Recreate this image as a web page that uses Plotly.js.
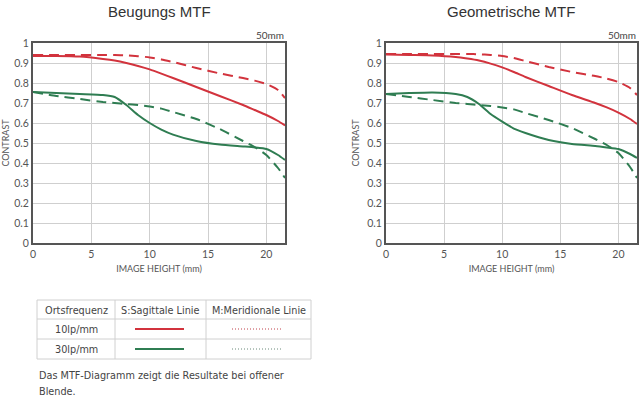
<!DOCTYPE html>
<html>
<head>
<meta charset="utf-8">
<script src="https://cdn.plot.ly/plotly-3.0.1.min.js"></script>
<style>
html,body{margin:0;padding:0;background:#fff;}
#chart{width:640px;height:396px;}
</style>
</head>
<body>
<div id="chart"></div>
<script>
// ---- data ----
const imageHeight = [0, 2, 4, 6, 7, 8, 9, 10, 11, 12, 14, 16, 18, 19, 20, 21, 21.6];

// Beugungs MTF (left)
const beug10S = [0.935,0.935,0.932,0.92,0.912,0.90,0.885,0.868,0.847,0.825,0.78,0.735,0.69,0.665,0.64,0.61,0.588];
const beug10M = [0.94,0.94,0.94,0.94,0.94,0.938,0.934,0.928,0.918,0.905,0.875,0.848,0.825,0.812,0.795,0.765,0.725];
const beug30S = [0.755,0.75,0.745,0.74,0.73,0.69,0.64,0.6,0.567,0.542,0.51,0.492,0.483,0.478,0.47,0.44,0.415];
const beug30M = [0.755,0.735,0.72,0.705,0.70,0.695,0.69,0.683,0.672,0.655,0.62,0.57,0.51,0.48,0.44,0.375,0.325];

// Geometrische MTF (right)
const geo10S = [0.942,0.94,0.938,0.93,0.922,0.912,0.897,0.878,0.855,0.83,0.785,0.74,0.70,0.678,0.652,0.62,0.595];
const geo10M = [0.945,0.945,0.945,0.945,0.945,0.944,0.94,0.935,0.925,0.91,0.88,0.855,0.835,0.822,0.805,0.775,0.74];
const geo30S = [0.745,0.75,0.753,0.745,0.73,0.695,0.645,0.607,0.572,0.55,0.515,0.495,0.485,0.478,0.47,0.445,0.425];
const geo30M = [0.745,0.73,0.715,0.70,0.695,0.69,0.685,0.678,0.668,0.65,0.615,0.575,0.52,0.49,0.45,0.38,0.325];

const chartTitles = ["Beugungs MTF", "Geometrische MTF"];
const focalLabel = "50mm";
const xTickVals = [0, 5, 10, 15, 20];
const yTickVals = [0,0.1,0.2,0.3,0.4,0.5,0.6,0.7,0.8,0.9,1];
const yTickText = ["0","0.1","0.2","0.3","0.4","0.5","0.6","0.7","0.8","0.9","1"];
const xTitle = "IMAGE HEIGHT (mm)";
const yTitle = "CONTRAST";

const tableHeader = ["Ortsfrequenz", "S:Sagittale Linie", "M:Meridionale Linie"];
const tableRows = ["10lp/mm", "30lp/mm"];
const footnote = ["Das MTF-Diagramm zeigt die Resultate bei offener", "Blende."];

// ---- styles ----
const RED = "#d2333d";
const GREEN = "#2f7d52";
const W = 640, H = 396;
const px = x => x / W;
const py = y => 1 - y / H;

function line(x, y, color, dashed, xa, ya) {
  return {
    x: x, y: y, xaxis: xa, yaxis: ya, type: "scatter", mode: "lines",
    line: {color: color, width: 2, dash: dashed ? "10px,6px" : "solid", shape: "spline", smoothing: 0.5},
    hoverinfo: "skip", showlegend: false
  };
}

const traces = [
  line(imageHeight, beug10M, RED, true, "x", "y"),
  line(imageHeight, beug10S, RED, false, "x", "y"),
  line(imageHeight, beug30M, GREEN, true, "x", "y"),
  line(imageHeight, beug30S, GREEN, false, "x", "y"),
  line(imageHeight, geo10M, RED, true, "x2", "y2"),
  line(imageHeight, geo10S, RED, false, "x2", "y2"),
  line(imageHeight, geo30M, GREEN, true, "x2", "y2"),
  line(imageHeight, geo30S, GREEN, false, "x2", "y2")
];

const tickFont = {family: "Lato, 'Open Sans', sans-serif", size: 10.5, color: "#555"};
const titleFont = {family: "Lato, 'Open Sans', sans-serif", size: 9, color: "#555"};

function xAxis(domain, anchor) {
  return {
    domain: domain, anchor: anchor, range: [0, 21.6],
    tickvals: xTickVals, ticks: "", showgrid: true, gridcolor: "#cfcfcf", gridwidth: 1,
    zeroline: false, showline: true, linecolor: "#555", linewidth: 2, mirror: true,
    tickfont: tickFont, fixedrange: true,
    title: {text: xTitle, font: titleFont, standoff: 7}
  };
}
function yAxis(anchor) {
  return {
    domain: [py(243), py(43)], anchor: anchor, range: [0, 1],
    tickvals: yTickVals, ticktext: yTickText, ticks: "", showgrid: true, gridcolor: "#cfcfcf", gridwidth: 1,
    zeroline: false, showline: true, linecolor: "#555", linewidth: 2, mirror: true,
    tickfont: tickFont, fixedrange: true,
    title: {text: yTitle, font: titleFont, standoff: 6}
  };
}

const annotations = [];
const shapes = [];
const txtFont = {family: "DejaVu Sans, Verdana, sans-serif", size: 9.7, color: "#444"};

// chart titles
const plotCenters = [159, 511];
chartTitles.forEach((t, i) => {
  annotations.push({text: t, xref: "paper", yref: "paper", x: px(plotCenters[i]), y: py(11),
    xanchor: "center", yanchor: "middle", showarrow: false,
    font: {family: "'Liberation Sans', Arial, sans-serif", size: 15, color: "#333"}});
});
// 50mm labels
[286, 638].forEach(xr => {
  annotations.push({text: focalLabel, xref: "paper", yref: "paper", x: px(xr), y: py(35),
    xanchor: "right", yanchor: "middle", showarrow: false, font: {family: "Lato, sans-serif", size: 10, color: "#444"}});
});

// legend table
const tL = 37, tR = 311, colX = [37, 115, 206, 311], rowY = [300, 319, 339, 359];
const border = {color: "#d0d0d0", width: 1};
rowY.forEach(y => shapes.push({type: "line", xref: "paper", yref: "paper", x0: px(tL), x1: px(tR), y0: py(y), y1: py(y), line: border}));
colX.forEach(x => shapes.push({type: "line", xref: "paper", yref: "paper", x0: px(x), x1: px(x), y0: py(rowY[0]), y1: py(rowY[3]), line: border}));
tableHeader.forEach((h, i) => {
  annotations.push({text: h, xref: "paper", yref: "paper", x: px((colX[i] + colX[i+1]) / 2), y: py(310),
    xanchor: "center", yanchor: "middle", showarrow: false, font: txtFont});
});
const rowColors = [RED, GREEN];
const dotColors = ["#c0404a", "#6a8a7a"];
tableRows.forEach((r, i) => {
  const yc = (rowY[i+1] + rowY[i+2]) / 2;
  annotations.push({text: r, xref: "paper", yref: "paper", x: px(76), y: py(yc),
    xanchor: "center", yanchor: "middle", showarrow: false, font: txtFont});
  shapes.push({type: "line", xref: "paper", yref: "paper", x0: px(135), x1: px(184), y0: py(yc), y1: py(yc),
    line: {color: rowColors[i], width: 2}});
  shapes.push({type: "line", xref: "paper", yref: "paper", x0: px(232), x1: px(283), y0: py(yc), y1: py(yc),
    line: {color: dotColors[i], width: 1, dash: "1px,2px"}});
});
footnote.forEach((t, i) => {
  annotations.push({text: t, xref: "paper", yref: "paper", x: px(37), y: py(375 + i * 16),
    xanchor: "left", yanchor: "middle", showarrow: false, font: txtFont});
});

const layout = {
  width: W, height: H,
  margin: {l: 0, r: 0, t: 0, b: 0},
  paper_bgcolor: "#fff", plot_bgcolor: "#fff",
  showlegend: false,
  xaxis: xAxis([px(33), px(285)], "y"),
  yaxis: yAxis("x"),
  xaxis2: xAxis([px(386), px(637)], "y2"),
  yaxis2: yAxis("x2"),
  annotations: annotations,
  shapes: shapes
};

Plotly.newPlot("chart", traces, layout, {displayModeBar: false, staticPlot: true});
</script>
</body>
</html>
